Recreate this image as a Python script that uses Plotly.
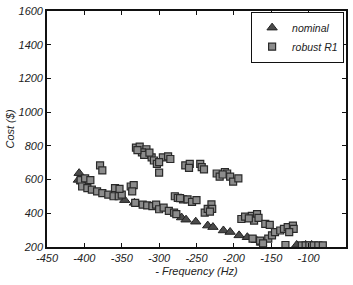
import plotly.graph_objects as go

nominal_x = [-407, -408, -404, -346, -333, -270, -264, -251, -235, -228, -214, -205, -193, -182, -170, -163, -116, -104, -96]
nominal_y = [638, 598, 588, 478, 462, 375, 362, 350, 327, 318, 298, 289, 269, 258, 240, 224, 212, 212, 212]

robust_x = [-405, -399, -392, -403, -396, -390, -383, -376, -368, -361, -354, -350, -359, -353, -338, -334, -336,
            -379, -376, -300,
            -332, -322, -316, -309, -304, -300, -294, -287, -280, -277,
            -331, -326, -317, -323, -320, -310, -307, -303, -295, -288, -285, -329, -313, -300,
            -265, -259, -260, -245, -243, -240,
            -223, -219, -212, -209, -205, -201, -194, -215,
            -279, -275, -268, -262, -256, -250, -272,
            -239, -235, -230, -229, -232,
            -190, -185, -176, -169, -173, -167, -180,
            -158, -152,
            -154, -149, -145, -138, -133, -128, -121, -120, -126, -175, -165,
            -161, -131, -109, -104, -99, -93, -87, -81]
robust_y = [597, 607, 597, 559, 549, 540, 530, 520, 511, 501, 501, 511, 549, 545, 559, 567, 530,
            684, 654, 641,
            462, 451, 447, 443, 451, 424, 433, 414, 404, 395,
            790, 796, 780, 761, 746, 732, 713, 693, 732, 738, 722, 775, 760, 703,
            684, 693, 669, 693, 674, 660,
            636, 617, 645, 636, 617, 588, 607, 630,
            501, 491, 482, 482, 468, 478, 490,
            404, 426, 453, 426, 410,
            366, 380, 385, 395, 357, 373, 370,
            337, 331,
            250, 269, 288, 298, 307, 318, 327, 307, 288, 250, 238,
            221, 212, 210, 210, 210, 210, 210, 210]

x_ticks = [-450, -400, -350, -300, -250, -200, -150, -100, -50]
y_ticks = [200, 400, 600, 800, 1000, 1200, 1400, 1600]

font_it = dict(family="Liberation Sans, Arial, sans-serif", size=11, color="#222", style="italic")
legend_font = dict(family="Liberation Sans, Arial, sans-serif", size=10.5, color="#222", style="italic")

fig = go.Figure()
fig.add_trace(go.Scatter(
    x=nominal_x, y=nominal_y, mode="markers", name="nominal",
    marker=dict(symbol="triangle-up", size=9, color="#4a4a4a",
                line=dict(color="#222", width=1))))
fig.add_trace(go.Scatter(
    x=robust_x, y=robust_y, mode="markers", name="robust R1",
    marker=dict(symbol="square", size=7, color="#8c8c8c",
                line=dict(color="#2a2a2a", width=1.2))))

axis_common = dict(showline=True, linecolor="#111", linewidth=1.6, mirror="ticks",
                   ticks="inside", ticklen=4, tickcolor="#111", tickwidth=1,
                   showgrid=False, zeroline=False, tickfont=font_it)

fig.update_layout(
    width=353, height=285,
    margin=dict(l=47, r=7, t=5, b=38),
    paper_bgcolor="white", plot_bgcolor="white",
    showlegend=True,
    legend=dict(x=0.993, xanchor="right", y=0.996, yanchor="top",
                bordercolor="#111", borderwidth=1.2, bgcolor="white",
                font=legend_font, tracegroupgap=0),
    xaxis=dict(range=[-450, -50], tickvals=x_ticks, ticktext=[str(v) for v in x_ticks],
               title=dict(text="- Frequency (Hz)", font=font_it, standoff=4), **axis_common),
    yaxis=dict(range=[200, 1600], tickvals=y_ticks, ticktext=[str(v) for v in y_ticks],
               title=dict(text="Cost ($)", font=font_it, standoff=2), **axis_common),
)

fig.write_html("out.html")
